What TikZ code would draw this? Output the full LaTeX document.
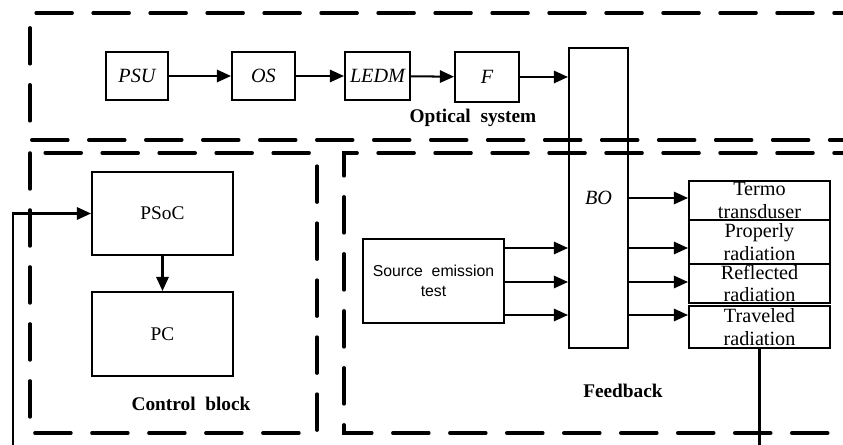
\documentclass[tikz,border=0pt]{standalone}
\usepackage{fontspec}
\setmainfont{Liberation Serif}
\setsansfont{Liberation Sans}
\usetikzlibrary{arrows.meta}
\tikzset{
    blk/.style={draw, line width=1.15pt, inner sep=0pt, align=center, font=\fontsize{11}{13}\selectfont},
    itblk/.style={blk, font=\fontsize{11.5}{13}\selectfont\itshape},
    rlab/.style={align=center, inner sep=0pt, font=\fontsize{11.5}{13}\selectfont},
    arr/.style={line width=1.15pt, -{Triangle[length=8pt,width=7pt]}},
    frame/.style={line width=2pt, line cap=round, dash pattern=on 0.72cm off 0.42cm},
    ttl/.style={font=\fontsize{11}{13}\selectfont\bfseries}}

\begin{document}
\begin{tikzpicture}[x=0.02cm, y=-0.02cm]
\clip (0,0) rectangle (843,445);

% dashed frames
\draw[frame] (870,13) -- (30,13) -- (30,140) -- (870,140);
\draw[frame] (30,153) rectangle (317,433);
\draw[frame] (870,153) -- (344,153) -- (344,433) -- (870,433);

% optical system
\node[itblk, minimum width=1.24cm, minimum height=0.96cm] (psu) at (137,76) {PSU};
\node[itblk, minimum width=1.26cm, minimum height=0.96cm] (os) at (263.5,76) {OS};
\node[itblk, minimum width=1.3cm, minimum height=0.96cm] (ledm) at (377.5,76) {LEDM};
\node[itblk, minimum width=1.28cm, minimum height=1.0cm] (f) at (487,77) {F};
\node[itblk, minimum width=1.18cm, minimum height=6.0cm] (bo) at (598.5,198) {BO};
\node[ttl] (optlab) at (473,118) {Optical~~system};

\draw[arr] (psu) -- (os);
\draw[arr] (os) -- (ledm);
\draw[arr] (ledm) -- (f);
\draw[arr] (f.east) -- (bo.west |- f.east);

% control block
\node[blk, minimum width=2.82cm, minimum height=1.66cm] (psoc) at (162.5,213.5) {PSoC};
\node[blk, minimum width=2.82cm, minimum height=1.68cm] (pc) at (162.5,334) {PC};
\node[ttl] (ctrllab) at (191,404) {Control~~block};

\draw[arr] (psoc) -- (pc);

% feedback
\node[blk, minimum width=2.82cm, minimum height=1.68cm, font=\fontsize{9}{11}\sffamily] (src) at (433.5,281) {Source~~emission\\test};
\node[blk, minimum width=2.82cm, minimum height=0.78cm, label={[rlab]center:Termo\\transduser}] (termo) at (759.5,200.5) {};
\node[blk, minimum width=2.82cm, minimum height=0.88cm, label={[rlab]center:Properly\\radiation}] (prop) at (759.5,242) {};
\node[blk, minimum width=2.82cm, minimum height=0.78cm, label={[rlab]center:Reflected\\radiation}] (refl) at (759.5,283.5) {};
\node[blk, minimum width=2.82cm, minimum height=0.84cm, label={[rlab]center:Traveled\\radiation}] (trav) at (759.5,327) {};
\node[ttl] (fblab) at (623,391) {Feedback};

\draw[arr] (src.east |- 0,248) -- (bo.west |- 0,248);
\draw[arr] (src.east |- 0,282) -- (bo.west |- 0,282);
\draw[arr] (src.east |- 0,315) -- (bo.west |- 0,315);

\draw[arr] (bo.east |- 0,198) -- (termo.west |- 0,198);
\draw[arr] (bo.east |- 0,248) -- (prop.west |- 0,248);
\draw[arr] (bo.east |- 0,282) -- (refl.west |- 0,282);
\draw[arr] (bo.east |- 0,315) -- (trav.west |- 0,315);

% loop back to PSoC
\coordinate (back) at (13,460);
\draw[arr] (trav.south) |- (back) |- (psoc.west);

\end{tikzpicture}
\end{document}
